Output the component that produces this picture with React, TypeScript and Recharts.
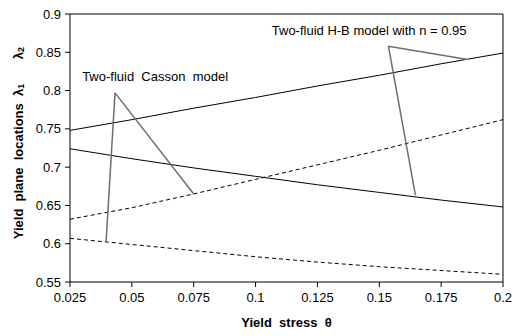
import { LineChart, Line, XAxis, YAxis, ReferenceLine, ReferenceDot } from "recharts"

const theta = [0.025, 0.05, 0.075, 0.1, 0.125, 0.15, 0.175, 0.2]
const hbLambda2 = [0.748, 0.762, 0.777, 0.791, 0.806, 0.82, 0.835, 0.849]
const hbLambda1 = [0.724, 0.711, 0.699, 0.688, 0.677, 0.667, 0.657, 0.648]
const cassonLambda2 = [0.632, 0.647, 0.665, 0.684, 0.703, 0.722, 0.742, 0.762]
const cassonLambda1 = [0.607, 0.599, 0.591, 0.583, 0.576, 0.57, 0.565, 0.56]

const xTicks = [0.025, 0.05, 0.075, 0.1, 0.125, 0.15, 0.175, 0.2]
const yTicks = [0.55, 0.6, 0.65, 0.7, 0.75, 0.8, 0.85, 0.9]

// callout polylines: leg end -> elbow -> leg end
const cassonCallout = [
  { x: 0.0396, y: 0.6035 },
  { x: 0.0432, y: 0.797 },
  { x: 0.075, y: 0.665 },
]
const hbCallout = [
  { x: 0.1646, y: 0.6635 },
  { x: 0.1537, y: 0.858 },
  { x: 0.1857, y: 0.8405 },
]
const NB = "\u00a0"
const cassonText = { x: 0.0594, y: 0.819, text: `Two-fluid${NB}${NB}Casson${NB}${NB}model` }
const hbText = { x: 0.1459, y: 0.879, text: "Two-fluid H-B model with n = 0.95" }

const data = theta.map((t, i) => ({
  theta: t,
  hb2: hbLambda2[i],
  hb1: hbLambda1[i],
  c2: cassonLambda2[i],
  c1: cassonLambda1[i],
}))

const FONT = '"Liberation Sans", Arial, sans-serif'
const calloutColor = "#6e6e6e"

const segments = (pts: { x: number; y: number }[]) =>
  pts.slice(1).map((p, i) => [
    { x: pts[i].x, y: pts[i].y },
    { x: p.x, y: p.y },
  ])

function YLabel(props: any) {
  const vb = props.viewBox || { x: 0, y: 14 }
  const cx = vb.x + 18
  return (
    <g fontFamily={FONT} fontWeight="bold" fontSize={13} fill="#000">
      <text
        x={cx}
        y={vb.y + 147.5}
        textAnchor="middle"
        dominantBaseline="central"
        transform={`rotate(-90 ${cx} ${vb.y + 147.5})`}
        style={{ whiteSpace: "pre" }}
      >
        {"Yield  plane  locations  λ"}
        <tspan fontSize={9} dy={3}>1</tspan>
      </text>
      <text
        x={cx}
        y={vb.y + 39}
        textAnchor="middle"
        dominantBaseline="central"
        transform={`rotate(-90 ${cx} ${vb.y + 39})`}
      >
        λ<tspan fontSize={9} dy={3}>2</tspan>
      </text>
    </g>
  )
}

export default function App() {
  const tickStyle = { fontSize: 13, fill: "#000", fontFamily: FONT }
  return (
    <div style={{ position: "absolute", left: 0, top: 0, background: "#fff" }}>
      <LineChart
        width={514}
        height={336}
        data={data}
        margin={{ top: 14, right: 11, left: 0, bottom: 0 }}
      >
        <XAxis
          dataKey="theta"
          type="number"
          domain={[0.025, 0.2]}
          ticks={xTicks}
          tickFormatter={(v) => String(v)}
          tick={tickStyle}
          stroke="#000"
          tickSize={5}
          tickMargin={6}
          height={54}
          label={{
            value: `Yield${NB}${NB}stress${NB}${NB}θ`,
            position: "insideBottom",
            offset: 9,
            style: { fontSize: 13, fontWeight: "bold", fill: "#000", fontFamily: FONT },
          }}
        />
        <YAxis
          type="number"
          domain={[0.55, 0.9]}
          ticks={yTicks}
          tickFormatter={(v) => String(v)}
          tick={tickStyle}
          stroke="#000"
          tickSize={5}
          tickMargin={4}
          width={70}
          label={<YLabel />}
        />
        <ReferenceLine y={0.9} stroke="#000" />
        <ReferenceLine x={0.2} stroke="#000" />
        <Line dataKey="hb2" type="linear" stroke="#000" strokeWidth={1} dot={false} isAnimationActive={false} />
        <Line dataKey="hb1" type="linear" stroke="#000" strokeWidth={1} dot={false} isAnimationActive={false} />
        <Line dataKey="c2" type="linear" stroke="#000" strokeWidth={1} strokeDasharray="4 3" dot={false} isAnimationActive={false} />
        <Line dataKey="c1" type="linear" stroke="#000" strokeWidth={1} strokeDasharray="4 3" dot={false} isAnimationActive={false} />
        {segments(cassonCallout).map((seg, i) => (
          <ReferenceLine key={"c" + i} segment={seg} stroke={calloutColor} strokeWidth={1.5} />
        ))}
        {segments(hbCallout).map((seg, i) => (
          <ReferenceLine key={"h" + i} segment={seg} stroke={calloutColor} strokeWidth={1.5} />
        ))}
        {[cassonText, hbText].map((t) => (
          <ReferenceDot
            key={t.text}
            x={t.x}
            y={t.y}
            r={0}
            fill="none"
            stroke="none"
            label={{
              value: t.text,
              position: "center",
              style: { fontSize: 13, fill: "#000", fontFamily: FONT },
            }}
          />
        ))}
      </LineChart>
    </div>
  )
}
